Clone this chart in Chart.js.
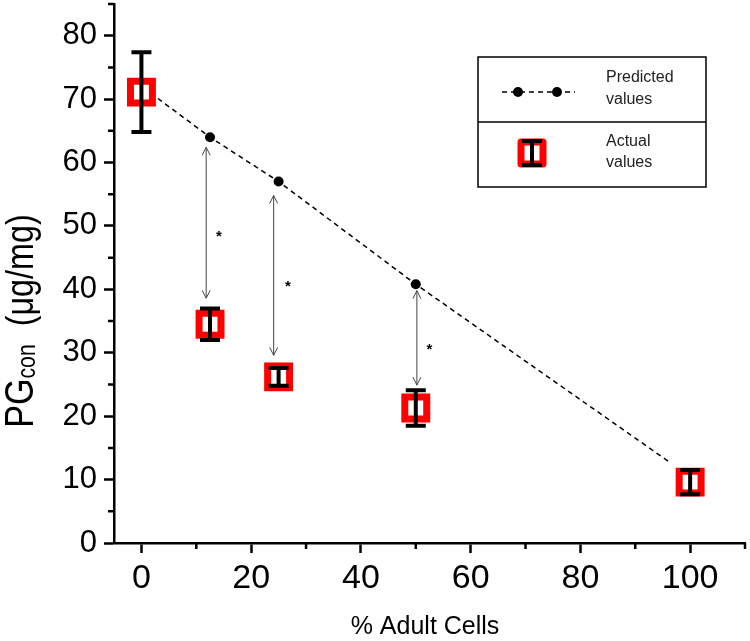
<!DOCTYPE html>
<html>
<head>
<meta charset="utf-8">
<script src="https://cdn.jsdelivr.net/npm/chart.js@4.4.1/dist/chart.umd.min.js"></script>
<style>
  body { margin: 0; background: #fff; }
  canvas { display: block; }
</style>
</head>
<body>
<canvas id="chart" width="750" height="641"></canvas>
<script>
// % adult cells in the mix
const adultPct = [0, 12.5, 25, 50, 100];
// measured PG content (mean and error)
const actualMean = [71.1, 34.5, 26.2, 21.3, 9.6];
const actualErr = [6.3, 2.5, 1.4, 2.8, 1.9];

// predicted values (dashed line, first/last entries are just the line ends)
const predX = [3, 12.5, 25, 50, 96];
const predY = [70.1, 64.0, 57.0, 40.8, 12.9];

// arrows between predicted and actual
const arrowX = [11.8, 24.1, 50.2];
const arrowTop = [62.4, 54.8, 39.8];
const arrowBottom = [38.6, 29.6, 24.9];
const starX = [14.1, 26.7, 52.5];
const starY = [48.8, 40.8, 30.9];

const xTicks = [0, 10, 20, 30, 40, 50, 60, 70, 80, 90, 100, 110];
const yTicks = [0, 5, 10, 15, 20, 25, 30, 35, 40, 45, 50, 55, 60, 65, 70, 75, 80, 85];

const FONT = '"Liberation Sans", Arial, sans-serif';

function drawActualIcon(ctx, x, y, top, bottom) {
  // red square marker
  ctx.save();
  ctx.strokeStyle = '#ff0000';
  ctx.fillStyle = '#fff';
  ctx.lineWidth = 7;
  ctx.lineJoin = 'round';
  ctx.beginPath();
  ctx.rect(x - 11, y - 11, 22, 22);
  ctx.fill();
  ctx.stroke();
  ctx.restore();
  drawErrBar(ctx, x, top, bottom);
}

function drawErrBar(ctx, x, top, bottom) {
  ctx.save();
  ctx.strokeStyle = '#000';
  ctx.lineWidth = 4;
  ctx.beginPath();
  ctx.moveTo(x, top); ctx.lineTo(x, bottom);
  ctx.moveTo(x - 10, top); ctx.lineTo(x + 10, top);
  ctx.moveTo(x - 10, bottom); ctx.lineTo(x + 10, bottom);
  ctx.stroke();
  ctx.restore();
}

const extras = {
  id: 'extras',
  afterDatasetsDraw(chart) {
    const ctx = chart.ctx;
    const xs = chart.scales.x, ys = chart.scales.y;

    // error bars over the squares
    adultPct.forEach((v, i) => {
      drawErrBar(ctx, xs.getPixelForValue(v),
        ys.getPixelForValue(actualMean[i] + actualErr[i]),
        ys.getPixelForValue(actualMean[i] - actualErr[i]));
    });

    // double headed arrows
    ctx.save();
    ctx.strokeStyle = '#444';
    ctx.lineWidth = 1;
    arrowX.forEach((v, i) => {
      const px = xs.getPixelForValue(v);
      const t = ys.getPixelForValue(arrowTop[i]);
      const b = ys.getPixelForValue(arrowBottom[i]);
      ctx.beginPath();
      ctx.moveTo(px, t); ctx.lineTo(px, b);
      ctx.moveTo(px - 4, t + 8); ctx.lineTo(px, t); ctx.lineTo(px + 4, t + 8);
      ctx.moveTo(px - 4, b - 8); ctx.lineTo(px, b); ctx.lineTo(px + 4, b - 8);
      ctx.stroke();
    });
    ctx.restore();

    // significance stars
    ctx.save();
    ctx.fillStyle = '#000';
    ctx.font = 'bold 15px ' + FONT;
    ctx.textAlign = 'center';
    ctx.textBaseline = 'middle';
    starX.forEach((v, i) => {
      ctx.fillText('*', xs.getPixelForValue(v), ys.getPixelForValue(starY[i]) + 3);
    });
    ctx.restore();
  },
  afterDraw(chart) {
    const ctx = chart.ctx;
    const xs = chart.scales.x, ys = chart.scales.y;

    // minor ticks
    ctx.save();
    ctx.strokeStyle = '#000';
    ctx.lineWidth = 2.5;
    ctx.beginPath();
    xTicks.filter(v => v % 20 !== 0).forEach(v => {
      const px = xs.getPixelForValue(v);
      ctx.moveTo(px, xs.top); ctx.lineTo(px, xs.top + 6);
    });
    yTicks.filter(v => v % 10 !== 0).forEach(v => {
      const py = ys.getPixelForValue(v);
      ctx.moveTo(ys.right, py); ctx.lineTo(ys.right - 6, py);
    });
    ctx.stroke();
    ctx.restore();

    // axis titles
    ctx.save();
    ctx.fillStyle = '#000';
    ctx.font = '25px ' + FONT;
    ctx.textAlign = 'center';
    ctx.textBaseline = 'middle';
    ctx.fillText('% Adult Cells', 425, 627);
    ctx.restore();

    ctx.save();
    ctx.translate(33, 321);
    ctx.rotate(-Math.PI / 2);
    ctx.scale(0.85, 1);
    ctx.fillStyle = '#000';
    ctx.textBaseline = 'alphabetic';
    const f1 = '40px ' + FONT, f2 = '25px ' + FONT, f3 = '38px ' + FONT;
    ctx.font = f1; const w1 = ctx.measureText('PG').width;
    ctx.font = f2; const w2 = ctx.measureText('con').width;
    ctx.font = f3; const w3 = ctx.measureText('  (\u03bcg/mg)').width;
    let x0 = -(w1 + w2 + w3) / 2;
    ctx.font = f1; ctx.fillText('PG', x0, 0);
    ctx.font = f2; ctx.fillText('con', x0 + w1, 2);
    ctx.font = f3; ctx.fillText('  (\u03bcg/mg)', x0 + w1 + w2, 0);
    ctx.restore();

    // legend box
    ctx.save();
    ctx.strokeStyle = '#000';
    ctx.lineWidth = 1.5;
    ctx.strokeRect(478, 57, 228, 130);
    ctx.beginPath();
    ctx.moveTo(478, 122); ctx.lineTo(706, 122);
    ctx.stroke();
    ctx.setLineDash([5, 4]);
    ctx.beginPath();
    ctx.moveTo(502, 92); ctx.lineTo(575, 92);
    ctx.stroke();
    ctx.setLineDash([]);
    ctx.fillStyle = '#000';
    [518, 557].forEach(cx => {
      ctx.beginPath(); ctx.arc(cx, 92, 5, 0, Math.PI * 2); ctx.fill();
    });
    ctx.fillStyle = '#222';
    ctx.font = '16px ' + FONT;
    ctx.textAlign = 'left';
    ctx.textBaseline = 'middle';
    ctx.fillText('Predicted', 606, 78);
    ctx.fillText('values', 606, 100);
    ctx.fillText('Actual', 606, 142);
    ctx.fillText('values', 606, 163);
    ctx.restore();
    drawActualIcon(ctx, 532, 153, 141, 165);
  }
};

new Chart(document.getElementById('chart'), {
  type: 'scatter',
  data: {
    datasets: [
      {
        label: 'Actual values',
        data: adultPct.map((v, i) => ({ x: v, y: actualMean[i] })),
        pointStyle: 'rect',
        pointRadius: 15.5,
        pointBorderWidth: 7,
        pointBorderColor: '#ff0000',
        pointBackgroundColor: '#fff',
        showLine: false,
        clip: false
      },
      {
        label: 'Predicted values',
        data: predX.map((v, i) => ({ x: v, y: predY[i] })),
        showLine: true,
        borderColor: '#000',
        borderWidth: 1.5,
        borderDash: [5, 4],
        pointRadius: ctx => (ctx.dataIndex === 0 || ctx.dataIndex === predX.length - 1) ? 0 : 5,
        pointBackgroundColor: '#000',
        pointBorderColor: '#000',
        pointBorderWidth: 0
      }
    ]
  },
  options: {
    responsive: false,
    animation: false,
    layout: { autoPadding: false, padding: { top: 4, right: 5, left: 0, bottom: 0 } },
    plugins: { legend: { display: false }, tooltip: { enabled: false } },
    scales: {
      x: {
        type: 'linear',
        min: -5,
        max: 110,
        afterBuildTicks: s => { s.ticks = xTicks.map(v => ({ value: v })); },
        afterFit: s => { s.height = 98; s.paddingLeft = 0; s.paddingRight = 0; },
        ticks: {
          autoSkip: false,
          maxRotation: 0,
          padding: 5,
          color: '#000',
          font: { family: FONT, size: 34 },
          callback: v => (v % 20 === 0 && v <= 100) ? String(v) : null
        },
        grid: {
          drawOnChartArea: false,
          tickLength: 10,
          tickWidth: 2.5,
          tickColor: c => (c.tick && c.tick.value % 20 === 0) ? '#000' : 'rgba(0,0,0,0)'
        },
        border: { color: '#000', width: 2.5 }
      },
      y: {
        min: 0,
        max: 85,
        afterBuildTicks: s => { s.ticks = yTicks.map(v => ({ value: v })); },
        afterFit: s => { s.width = 114; s.paddingTop = 0; s.paddingBottom = 0; },
        ticks: {
          autoSkip: false,
          padding: 7,
          color: '#000',
          font: { family: FONT, size: 31 },
          callback: v => (v % 10 === 0) ? String(v) : null
        },
        grid: {
          drawOnChartArea: false,
          tickLength: 10,
          tickWidth: 2.5,
          tickColor: c => (c.tick && c.tick.value % 10 === 0) ? '#000' : 'rgba(0,0,0,0)'
        },
        border: { color: '#000', width: 2.5 }
      }
    }
  },
  plugins: [extras]
});
</script>
</body>
</html>
